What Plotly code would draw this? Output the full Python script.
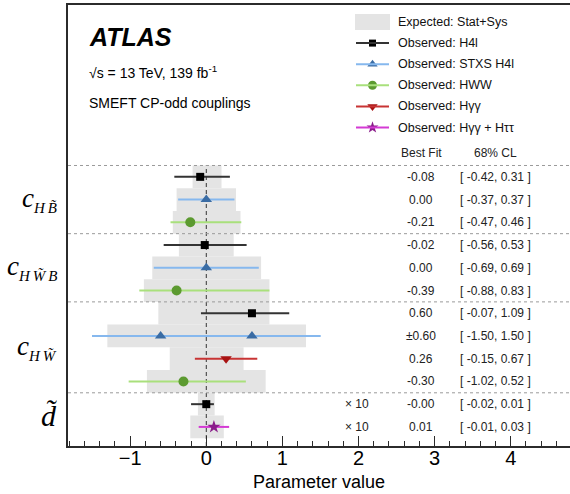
import plotly.graph_objects as go

# ---- fit results, one entry per measurement, listed top to bottom ----
coupling = ["cHB", "cHB", "cHB",
            "cHWB", "cHWB", "cHWB",
            "cHW", "cHW", "cHW", "cHW",
            "d", "d"]
analysis = ["H4l", "STXS H4l", "HWW",
            "H4l", "STXS H4l", "HWW",
            "H4l", "STXS H4l", "Hyy", "HWW",
            "H4l", "Hyy+Htt"]
best_fit = [-0.08, 0.00, -0.21,
            -0.02, 0.00, -0.39,
            0.60, 0.60, 0.26, -0.30,
            -0.00, 0.01]
two_fold = [False, False, False,
            False, False, False,
            False, True, False, False,
            False, False]
cl_low = [-0.42, -0.37, -0.47,
          -0.56, -0.69, -0.88,
          -0.07, -1.50, -0.15, -1.02,
          -0.02, -0.01]
cl_high = [0.31, 0.37, 0.46,
           0.53, 0.69, 0.83,
           1.09, 1.50, 0.67, 0.52,
           0.01, 0.03]
# expected 68% interval (stat+syst)
exp_low = [-0.18, -0.39, -0.44,
           -0.36, -0.71, -0.82,
           -0.63, -1.30, -0.48, -0.78,
           -0.011, -0.021]
exp_high = [0.20, 0.39, 0.45,
            0.36, 0.72, 0.83,
            0.83, 1.31, 0.49, 0.78,
            0.011, 0.023]
# d~ is drawn multiplied by 10
draw_scale = [1, 1, 1, 1, 1, 1, 1, 1, 1, 1, 10, 10]

SUB = '<sub><span style="font-size:15px"><i>%s</i></span></sub>'
coupling_labels = {
    "cHB": "<i>c</i>" + SUB % "H\u2009B\u0303",
    "cHWB": "<i>c</i>" + SUB % "H\u2009W\u0303\u2009B",
    "cHW": "<i>c</i>" + SUB % "H\u2009W\u0303",
    "d": "<i>d\u0303</i>",
}
coupling_sizes = {"cHB": 27, "cHWB": 27, "cHW": 27, "d": 30}

xtick_vals = [-1, 0, 1, 2, 3, 4]

# analysis -> (legend text, line colour, marker colour, symbol, marker size)
styles = {
    "H4l": ("Observed: H4l", "#333333", "#000000", "square", 8),
    "STXS H4l": ("Observed: STXS H4l", "#86b8ee", "#3a6ca4", "triangle-up", 10),
    "HWW": ("Observed: HWW", "#a9e07c", "#5c9a30", "circle", 10),
    "Hyy": ("Observed: H\u03b3\u03b3", "#c83434", "#a81212", "triangle-down", 10),
    "Hyy+Htt": ("Observed: H\u03b3\u03b3 + H\u03c4\u03c4", "#d43ad4", "#8a1c8a", "star", 10),
}
legend_order = ["H4l", "STXS H4l", "HWW", "Hyy", "Hyy+Htt"]

FONT = "Liberation Sans"
n = len(best_fit)
rows = [n - 1 - i for i in range(n)]          # top entry gets the highest row
y_lo, y_hi = -0.84, 18.56

# pixel frame of the plotting area (used for the overlay axes and labels)
PX_L, PX_R, PX_T, PX_B = 68, 570, 5, 446


def paper_x(px):
    return (px - PX_L) / (PX_R - PX_L)


fig = go.Figure()

# expected bands
fig.add_trace(go.Bar(
    orientation="h",
    y=rows,
    base=[lo * s for lo, s in zip(exp_low, draw_scale)],
    x=[(hi - lo) * s for lo, hi, s in zip(exp_low, exp_high, draw_scale)],
    width=1.0,
    marker=dict(color="#e4e4e4", line=dict(width=0)),
    showlegend=False, hoverinfo="skip",
))

# SM reference line
first_group_top = rows[0] + 0.5
fig.add_trace(go.Scatter(
    x=[0, 0], y=[y_lo, first_group_top], mode="lines",
    line=dict(color="#333333", width=1, dash="4px,3px"),
    showlegend=False, hoverinfo="skip",
))

# separators between the couplings
shapes = []
bounds = [first_group_top] + [rows[i] - 0.5 for i in range(n - 1) if coupling[i] != coupling[i + 1]]
for yb in bounds:
    shapes.append(dict(type="line", xref="paper", x0=0, x1=1, yref="y", y0=yb, y1=yb,
                       line=dict(color="#9a9a9a", width=1, dash="dot"), layer="above"))

# observed results
for key in legend_order:
    name, lcol, mcol, sym, msize = styles[key]
    xs, ys, ep, em = [], [], [], []
    for i in range(n):
        if analysis[i] != key:
            continue
        s = draw_scale[i]
        centres = [best_fit[i], -best_fit[i]] if two_fold[i] else [best_fit[i]]
        for c in centres:
            xs.append(c * s)
            ys.append(rows[i])
            ep.append((cl_high[i] - c) * s)
            em.append((c - cl_low[i]) * s)
    fig.add_trace(go.Scatter(
        x=xs, y=ys, mode="markers", name=name,
        marker=dict(symbol=sym, size=msize, color=mcol, line=dict(width=0)),
        error_x=dict(type="data", symmetric=False, array=ep, arrayminus=em,
                     width=0, thickness=2, color=lcol),
        showlegend=False,
    ))

annotations = []
TXT = dict(family=FONT, size=12, color="#222")

# table of numbers
col_fit, col_cl, col_scale = 421, 495, 357   # pixel columns (x2 axis)
header_row = rows[0] + 1.05
annotations.append(dict(xref="x2", yref="y", x=col_fit, y=header_row, text="Best Fit",
                        showarrow=False, font=TXT))
annotations.append(dict(xref="x2", yref="y", x=col_cl, y=header_row, text="68% CL",
                        showarrow=False, font=TXT))
for i in range(n):
    fit_txt = ("\u00b1%.2f" % abs(best_fit[i])) if two_fold[i] else ("%.2f" % best_fit[i])
    cl_txt = "[ %.2f, %.2f ]" % (cl_low[i], cl_high[i])
    annotations.append(dict(xref="x2", yref="y", x=col_fit, y=rows[i], text=fit_txt,
                            showarrow=False, font=TXT))
    annotations.append(dict(xref="x2", yref="y", x=col_cl, y=rows[i], text=cl_txt,
                            showarrow=False, font=TXT))
    if draw_scale[i] != 1:
        annotations.append(dict(xref="x2", yref="y", x=col_scale, y=rows[i],
                                text="\u00d7 %d" % draw_scale[i], showarrow=False, font=TXT))

# coupling names on the left of the frame
for cp in coupling_labels:
    idx = [rows[i] for i in range(n) if coupling[i] == cp]
    annotations.append(dict(xref="paper", yref="y", x=paper_x(59), y=sum(idx) / len(idx),
                            xanchor="right", yanchor="middle", text=coupling_labels[cp],
                            showarrow=False,
                            font=dict(family="Liberation Serif", size=coupling_sizes[cp], color="#000")))

# experiment labels
annotations.append(dict(xref="x2", yref="y2", x=87, y=37, xanchor="left", yanchor="middle",
                        text="<b><i>ATLAS</i></b>", showarrow=False,
                        font=dict(family=FONT, size=25, color="#000")))
annotations.append(dict(xref="x2", yref="y2", x=87, y=72, xanchor="left", yanchor="middle",
                        text="\u221as = 13 TeV, 139 fb<sup>-1</sup>", showarrow=False,
                        font=dict(family=FONT, size=14, color="#000")))
annotations.append(dict(xref="x2", yref="y2", x=87, y=103, xanchor="left", yanchor="middle",
                        text="SMEFT CP-odd couplings", showarrow=False,
                        font=dict(family=FONT, size=14, color="#000")))

# legend (pixel frame on the x2/y2 overlay)
leg_x0, leg_x1, leg_text_x = 355, 390, 396
leg_y0, leg_dy = 22, 21.1
shapes.append(dict(type="rect", xref="x2", yref="y2", x0=leg_x0, x1=leg_x1,
                   y0=leg_y0 - 8, y1=leg_y0 + 8, fillcolor="#e4e4e4", line=dict(width=0)))
annotations.append(dict(xref="x2", yref="y2", x=leg_text_x, y=leg_y0, xanchor="left",
                        yanchor="middle", text="Expected: Stat+Sys", showarrow=False,
                        font=dict(family=FONT, size=12.5, color="#111")))
for k, key in enumerate(legend_order):
    name, lcol, mcol, sym, msize = styles[key]
    yy = leg_y0 + leg_dy * (k + 1)
    shapes.append(dict(type="line", xref="x2", yref="y2", x0=leg_x0 + 1, x1=leg_x1 - 1,
                       y0=yy, y1=yy, line=dict(color=lcol, width=2)))
    fig.add_trace(go.Scatter(
        x=[(leg_x0 + leg_x1) / 2], y=[yy], xaxis="x2", yaxis="y2", mode="markers",
        marker=dict(symbol=sym, size=msize - 1, color=mcol, line=dict(width=0)),
        showlegend=False, hoverinfo="skip",
    ))
    annotations.append(dict(xref="x2", yref="y2", x=leg_text_x, y=yy, xanchor="left",
                            yanchor="middle", text=name, showarrow=False,
                            font=dict(family=FONT, size=12.5, color="#111")))

fig.update_layout(
    width=570, height=494,
    margin=dict(l=PX_L, r=570 - PX_R, t=PX_T, b=494 - PX_B),
    paper_bgcolor="white", plot_bgcolor="white",
    showlegend=False,
    font=dict(family=FONT, color="#000"),
    xaxis=dict(
        range=[-1.817, 4.779], showgrid=False, zeroline=False,
        showline=True, linecolor="#2b2b2b", linewidth=1.5, mirror=True,
        ticks="inside", ticklen=10, tickwidth=1, tickcolor="#2b2b2b",
        tickmode="array", tickvals=xtick_vals,
        minor=dict(ticks="inside", ticklen=5, tickwidth=1, tickcolor="#2b2b2b",
                   tickmode="linear", tick0=0, dtick=0.2),
        tickfont=dict(family=FONT, size=20, color="#000"),
        ticklabelstandoff=-7,
        title=dict(text="Parameter value", font=dict(family=FONT, size=18, color="#000"),
                   standoff=8),
    ),
    yaxis=dict(
        range=[y_lo, y_hi], showgrid=False, zeroline=False,
        showline=True, linecolor="#2b2b2b", linewidth=1.5, mirror=False,
        showticklabels=False, ticks="",
    ),
    xaxis2=dict(overlaying="x", range=[PX_L, PX_R], visible=False),
    yaxis2=dict(overlaying="y", range=[PX_B, PX_T], visible=False),
    shapes=shapes,
    annotations=annotations,
)

fig.write_html("out.html")
